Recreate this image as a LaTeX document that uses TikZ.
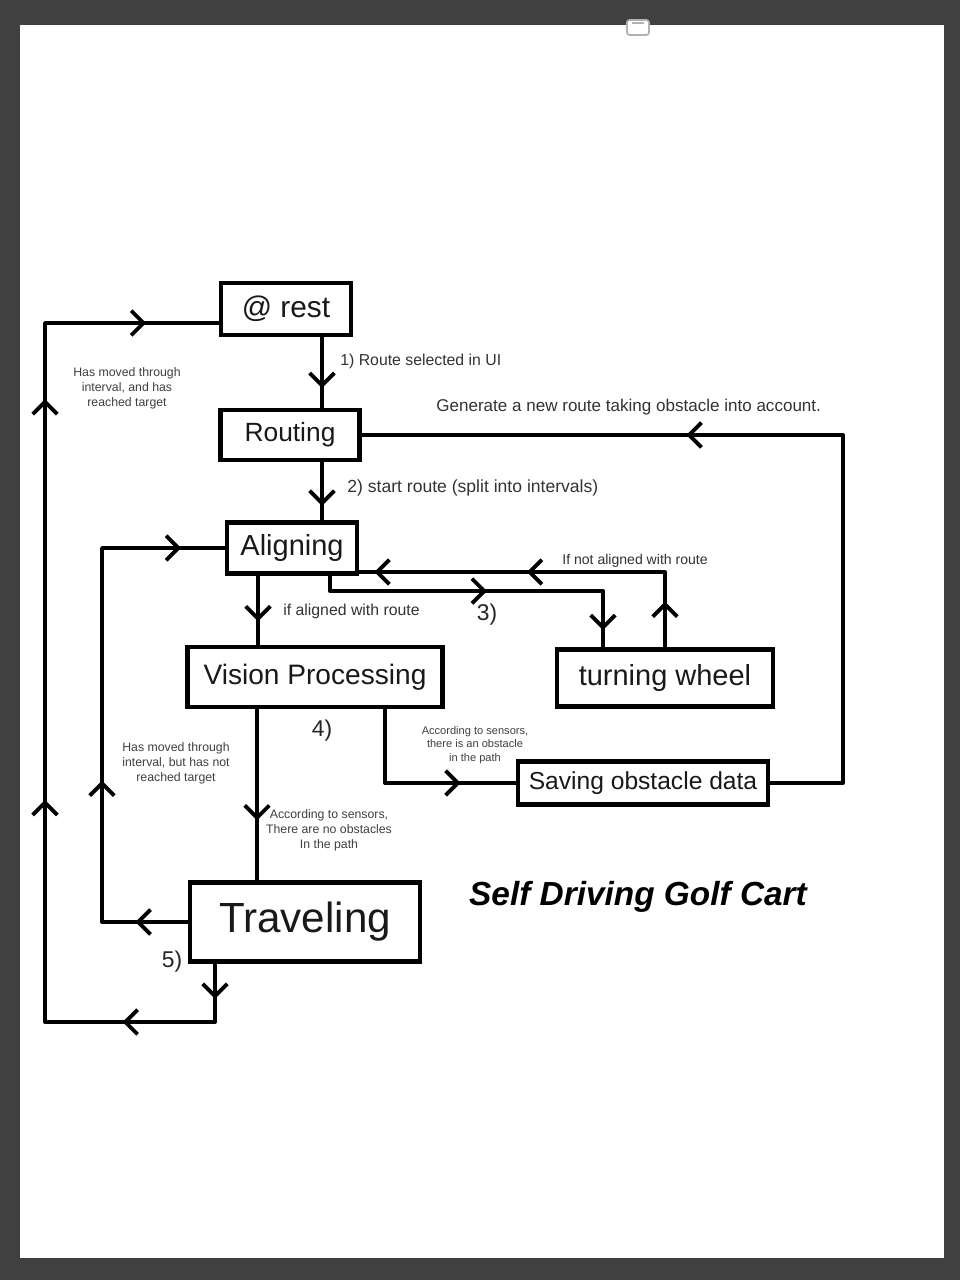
\documentclass[tikz,border=0pt]{standalone}
\usepackage{fontspec}
\setmainfont{Liberation Sans}
\usetikzlibrary{arrows.meta,decorations.markings}
\tikzset{
  box/.style={draw, line width=2.4pt, inner sep=0pt, text=black!90},
  link/.style={draw, line width=2.2pt, line join=round, line cap=round},
  arrat/.style={postaction={decorate, decoration={markings, mark=at position #1 with {\arrow{>}}}}},
  lbl/.style={text=black!80, anchor=west, inner sep=0pt, font=\fontsize{9}{11}\selectfont},
  smalllbl/.style={text=black!75, align=center, inner sep=0pt, font=\fontsize{7}{8.6}\selectfont},
  num/.style={text=black!85, inner sep=0pt, font=\fontsize{13}{15}\selectfont},
  >={Straight Barb[length=7pt,width=14pt]}
}
\begin{document}
\begin{tikzpicture}[x=0.02cm, y=-0.02cm]
 \useasboundingbox (0,0) rectangle (960,1280);
 \fill[black!75] (0,0) rectangle (960,1280);
 \fill[white] (20,25) rectangle (944,1258);
 \draw[gray!60, line width=1pt, rounded corners=1.5pt, fill=white] (627,20) rectangle (649,35);
 \draw[gray!60, line width=1pt] (632,23) -- (644,23);

 \node[box, minimum width=2.6cm, minimum height=1.04cm, font=\fontsize{17}{20}\selectfont] (rest) at (286,309) {@ rest};
 \node[box, minimum width=2.78cm, minimum height=1cm, font=\fontsize{15}{18}\selectfont] (routing) at (290,435) {Routing};
 \node[box, minimum width=2.6cm, minimum height=1.02cm, font=\fontsize{16.5}{19}\selectfont] (aligning) at (292,548) {Aligning};
 \node[box, minimum width=5.1cm, minimum height=1.2cm, font=\fontsize{16}{19}\selectfont] (vision) at (315,677) {Vision Processing};
 \node[box, minimum width=4.32cm, minimum height=1.14cm, font=\fontsize{16.5}{19}\selectfont] (wheel) at (665,678) {turning wheel};
 \node[box, minimum width=5cm, minimum height=0.86cm, font=\fontsize{14}{17}\selectfont] (saving) at (643,783) {Saving obstacle data};
 \node[box, minimum width=4.6cm, minimum height=1.58cm, font=\fontsize{24}{28}\selectfont] (traveling) at (305,922) {Traveling};

 \coordinate (turnL) at (603,591);
 \coordinate (genR) at (843,435);
 \coordinate (backA) at (102,548);
 \coordinate (backB) at (45,1022);

 \draw[link, arrat=0.72] ([xshift=0.72cm]rest.south) -- ([xshift=0.64cm]routing.north);
 \draw[link, arrat=0.75] ([xshift=0.64cm]routing.south) -- ([xshift=0.6cm]aligning.north);
 \draw[link, arrat=0.66] ([xshift=-0.68cm]aligning.south) -- ([xshift=-1.14cm]vision.north);
 \draw[link, arrat=0.5, arrat=0.95] ([xshift=0.76cm]aligning.south) |- (turnL) -- (turnL |- wheel.north);
 \draw[link, arrat=0.12, arrat=0.56, arrat=0.96] (wheel.north) |- ([yshift=-0.48cm]aligning.east);
 \draw[link, arrat=0.73] ([xshift=1.4cm]vision.south) |- (saving.west);
 \draw[link, arrat=0.65] ([xshift=-1.16cm]vision.south) -- ([xshift=-0.96cm]traveling.north);
 \draw[link, arrat=0.64] (saving.east) -| (genR) -- (routing.east);
 \draw[link, arrat=0.09, arrat=0.39, arrat=0.925] (traveling.west) -| (backA) -- (aligning.west);
 \draw[link, arrat=0.032, arrat=0.137, arrat=0.409, arrat=0.773, arrat=0.934] ([xshift=-1.8cm]traveling.south) |- (backB) |- ([yshift=-0.28cm]rest.west);

 \node[lbl] (lroute) at (340,361) {1) Route selected in UI};
 \node[lbl, font=\fontsize{9.7}{12}\selectfont] (lgen) at (436,407) {Generate a new route taking obstacle into account.};
 \node[lbl, font=\fontsize{10}{12}\selectfont] (lstart) at (347,488) {2) start route (split into intervals)};
 \node[lbl] (lalign) at (283,611) {if aligned with route};
 \node[lbl, font=\fontsize{8}{10}\selectfont] (lnot) at (562,561) {If not aligned with route};
 \node[num] (n3) at (487,615) {3)};
 \node[num] (n4) at (322,731) {4)};
 \node[num] (n5) at (172,962) {5)};
 \node[smalllbl] (lreached) at (127,388) {Has moved through\\interval, and has\\reached target};
 \node[smalllbl] (lnotreached) at (176,763) {Has moved through\\interval, but has not\\reached target};
 \node[smalllbl, font=\fontsize{6.3}{7.7}\selectfont] (lobst) at (475,745) {According to sensors,\\there is an obstacle\\in the path};
 \node[smalllbl] (lclear) at (329,830) {According to sensors,\\There are no obstacles\\In the path};
 \node[font=\bfseries\itshape\fontsize{19}{22}\selectfont] (title) at (638,897) {Self Driving Golf Cart};
\end{tikzpicture}
\end{document}
